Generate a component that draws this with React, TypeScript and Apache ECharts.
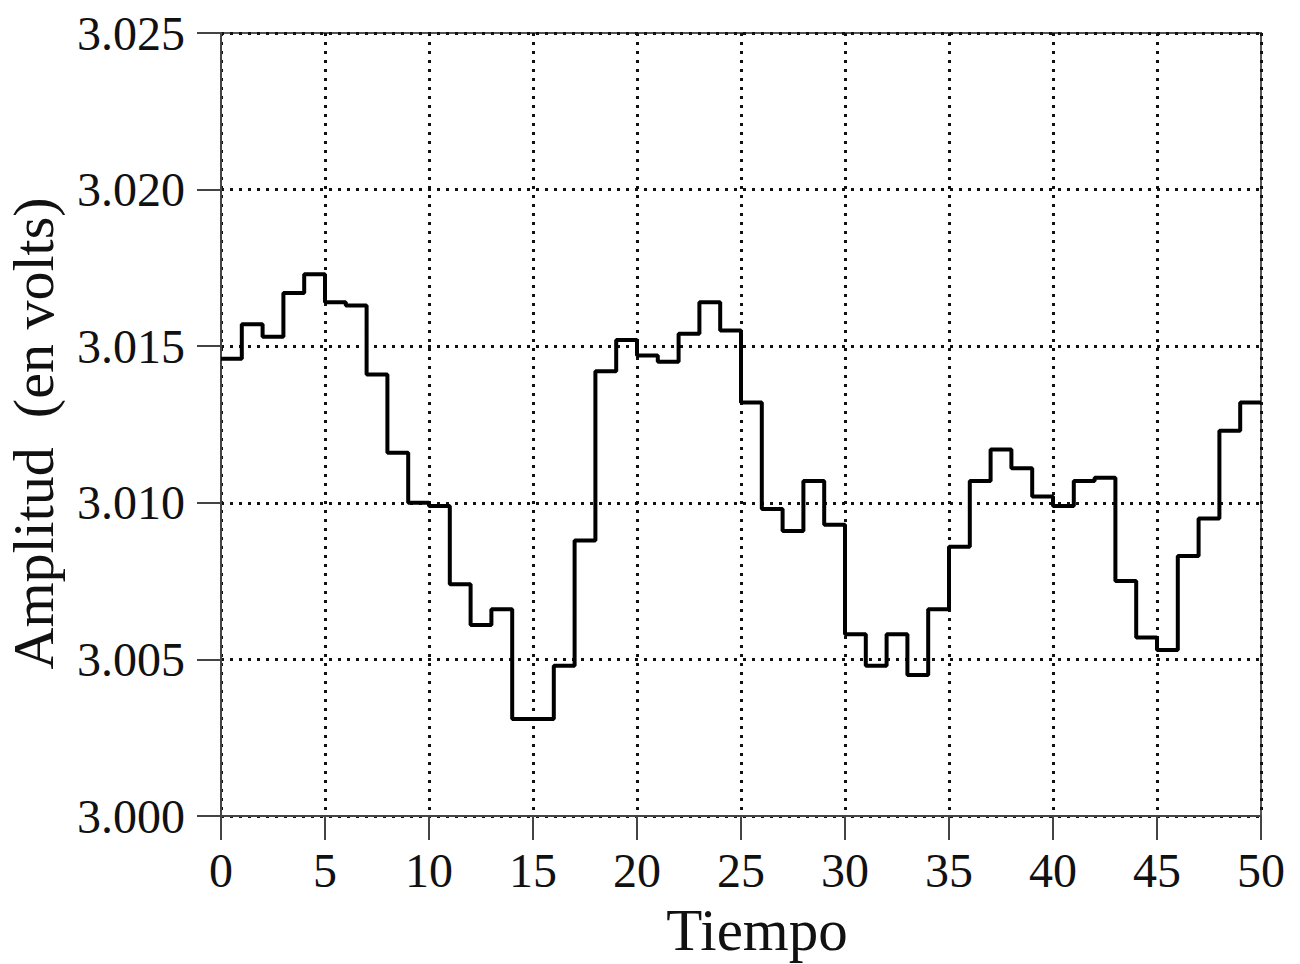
import React, { useEffect, useRef } from "react";
import * as echarts from "echarts";

const times: number[] = [
  0, 1, 2, 3, 4, 5, 6, 7, 8, 9, 10, 11, 12, 13, 14, 15, 16, 17, 18, 19, 20, 21, 22, 23, 24, 25,
  26, 27, 28, 29, 30, 31, 32, 33, 34, 35, 36, 37, 38, 39, 40, 41, 42, 43, 44, 45, 46, 47, 48, 49, 50,
];
const amplitude: number[] = [
  3.0146, 3.0157, 3.0153, 3.0167, 3.0173, 3.0164, 3.0163, 3.0141, 3.0116, 3.01, 3.0099,
  3.0074, 3.0061, 3.0066, 3.0031, 3.0031, 3.0048, 3.0088, 3.0142, 3.0152, 3.0147,
  3.0145, 3.0154, 3.0164, 3.0155, 3.0132, 3.0098, 3.0091, 3.0107, 3.0093, 3.0058,
  3.0048, 3.0058, 3.0045, 3.0066, 3.0086, 3.0107, 3.0117, 3.0111, 3.0102, 3.0099,
  3.0107, 3.0108, 3.0075, 3.0057, 3.0053, 3.0083, 3.0095, 3.0123, 3.0132, 3.0132,
];
const xTitle = "Tiempo";
const yTitle = "Amplitud  (en volts)";

const FONT = "'Liberation Serif', 'DejaVu Serif', serif";

export default function App() {
  const ref = useRef<HTMLDivElement>(null);
  useEffect(() => {
    if (!ref.current) return;
    const chart = echarts.init(ref.current, undefined, { renderer: "svg" });
    const data = times.map((t, i) => [t, amplitude[i]]);
    chart.setOption({
      animation: false,
      backgroundColor: "#fff",
      grid: {
        left: 221,
        right: 39,
        top: 33,
        bottom: 148,
        containLabel: false,
        outerBoundsMode: "none",
        show: true,
        borderColor: "#555",
        borderWidth: 2,
        backgroundColor: "transparent",
      },
      xAxis: {
        type: "value",
        min: 0,
        max: 50,
        interval: 5,
        name: xTitle,
        nameLocation: "middle",
        nameGap: 86,
        nameTextStyle: {
          fontFamily: FONT,
          fontSize: 59,
          lineHeight: 56,
          color: "#111",
          padding: [0, 0, 0, 32],
        },
        axisLine: { show: true, onZero: false, lineStyle: { color: "#444", width: 2 } },
        axisTick: { show: true, inside: false, length: 24, lineStyle: { color: "#444", width: 2 } },
        axisLabel: { fontFamily: FONT, fontSize: 48, color: "#111", margin: 30 },
        splitLine: { show: true, lineStyle: { color: "#111", width: 3, type: [3, 6] } },
      },
      yAxis: {
        type: "value",
        min: 3.0,
        max: 3.025,
        interval: 0.005,
        name: yTitle,
        nameLocation: "middle",
        nameGap: 159,
        nameRotate: 90,
        nameTextStyle: { fontFamily: FONT, fontSize: 58, color: "#111", padding: [0, 18, 0, 0] },
        axisLine: { show: true, lineStyle: { color: "#444", width: 2 } },
        axisTick: { show: true, inside: false, length: 24, lineStyle: { color: "#444", width: 2 } },
        axisLabel: {
          fontFamily: FONT,
          fontSize: 48,
          color: "#111",
          margin: 36,
          formatter: (v: number) => v.toFixed(3),
        },
        splitLine: { show: true, lineStyle: { color: "#111", width: 3, type: [3, 6] } },
      },
      series: [
        {
          type: "line",
          step: "end",
          data,
          showSymbol: false,
          symbol: "none",
          lineStyle: { color: "#000", width: 4 },
        },
      ],
    });
    return () => chart.dispose();
  }, []);
  return (
    <div
      ref={ref}
      style={{ position: "fixed", left: 0, top: 0, width: 1300, height: 964 }}
    />
  );
}
